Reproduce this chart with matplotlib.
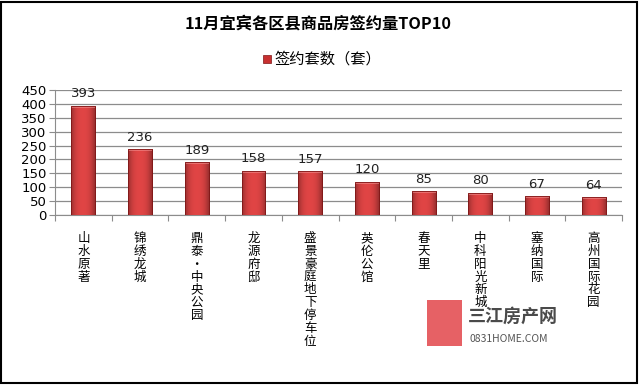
import matplotlib
matplotlib.use("Agg")
import matplotlib.pyplot as plt
import numpy as np
from matplotlib.patches import Rectangle

plt.rcParams['font.family'] = ['Noto Sans CJK SC', 'DejaVu Sans']

categories = ["山水原著", "锦绣龙城", "鼎泰·中央公园", "龙源府邸", "盛景豪庭地下停车位",
              "英伦公馆", "春天里", "中科阳光新城", "塞纳国际", "高州国际花园"]
values = [393, 236, 189, 158, 157, 120, 85, 80, 67, 64]
yticks = [0, 50, 100, 150, 200, 250, 300, 350, 400, 450]
title = "11月宜宾各区县商品房签约量TOP10"
legend_label = "签约套数（套）"

fig = plt.figure(figsize=(6.4, 3.85), dpi=100)
fig.patches.append(Rectangle((0.002, 0.004), 0.994, 0.992, transform=fig.transFigure,
                             fill=False, edgecolor="black", linewidth=1.5))

ax = fig.add_axes([0.086, 0.442, 0.886, 0.324])
x = np.arange(len(categories))
bars = ax.bar(x, values, width=0.42, color="#D03636", edgecolor="#8a1a1a",
              linewidth=0.6, zorder=3, label=legend_label)

grad = np.linspace(-1, 1, 64)
shade = 1 - 0.32 * np.abs(grad) ** 2.5
img = np.zeros((1, 64, 3))
base = np.array([0.88, 0.27, 0.27])
img[0] = base[None, :] * shade[:, None]
for b in bars:
    bx, by = b.get_x(), b.get_y()
    w, h = b.get_width(), b.get_height()
    im = ax.imshow(img, extent=(bx, bx + w, by, by + h), aspect="auto", zorder=3.5,
                   interpolation="bicubic")
    im.set_clip_path(b)
    ax.add_patch(Rectangle((bx, by + h - 7), w, 7, facecolor="#f59595", edgecolor="none",
                           alpha=0.55, zorder=3.6))
    ax.add_patch(Rectangle((bx, by), w, h, fill=False, edgecolor="#7e1616",
                           linewidth=0.6, zorder=3.7))

for xi, v in zip(x, values):
    ax.annotate(str(v), (xi, v), xytext=(0, 4), textcoords="offset points",
                ha="center", va="bottom", fontsize=9.5, family=["DejaVu Sans"],
                color="#222222", zorder=4)

ax.set_xlim(-0.5, len(categories) - 0.5)
ax.set_ylim(0, 450)
ax.set_yticks(yticks)
ax.set_yticklabels([str(t) for t in yticks], fontsize=9.5, family=["DejaVu Sans"])
ax.yaxis.grid(True, color="#8c8c8c", linewidth=0.9, zorder=0)
ax.set_axisbelow(True)
for s in ["top", "right"]:
    ax.spines[s].set_visible(False)
for s in ["left", "bottom"]:
    ax.spines[s].set_color("#8c8c8c")
ax.tick_params(axis="y", length=4, color="#8c8c8c", pad=2)
ax.set_xticks(np.arange(len(categories) + 1) - 0.5)
ax.set_xticklabels([])
ax.tick_params(axis="x", length=4, color="#8c8c8c")

for xi, c in zip(x, categories):
    ax.text(xi, -0.14, "\n".join(c), transform=ax.get_xaxis_transform(), ha="center",
            va="top", fontsize=9, linespacing=0.98, color="black")

fig.text(318 / 640, 1 - 23 / 385, title, ha="center", va="center", fontsize=11.7,
         fontweight="bold")

fig.patches.append(Rectangle((263 / 640, 1 - 63 / 385), 7.5 / 640, 8.5 / 385,
                             transform=fig.transFigure,
                             facecolor="#C83030", edgecolor="#7e1616", linewidth=0.5))
fig.text(274 / 640, 1 - 59 / 385, legend_label, ha="left", va="center", fontsize=11)

# watermark
fig.patches.append(Rectangle((427 / 640, 1 - 346 / 385), 35 / 640, 46 / 385,
                             transform=fig.transFigure, facecolor="#e03a3e",
                             edgecolor="none", alpha=0.8, zorder=5))
fig.text(468 / 640, 1 - 316 / 385, "三江房产网", ha="left", va="center", fontsize=13,
         fontweight="bold", color="#4a4a4a", zorder=6)
fig.text(469 / 640, 1 - 339 / 385, "0831HOME.COM", ha="left", va="center", fontsize=7.5,
         color="#555555", zorder=6)

fig.savefig("out.png", dpi=100)
